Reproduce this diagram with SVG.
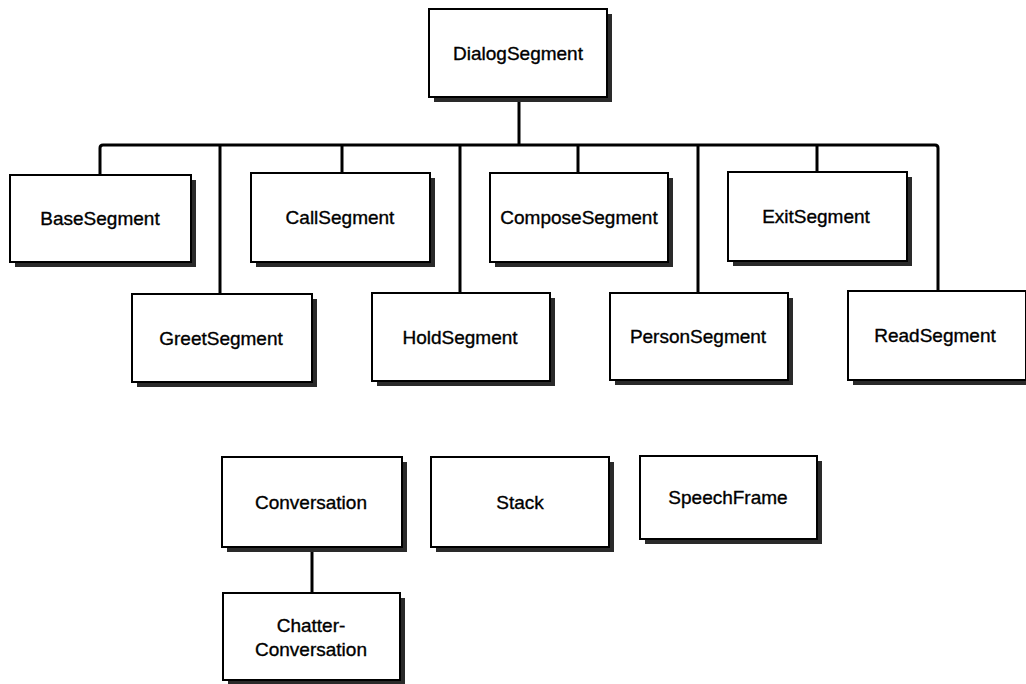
<svg xmlns="http://www.w3.org/2000/svg" width="1026" height="684" viewBox="0 0 1026 684">
<defs>
<style>
.sh{fill:#2a2a2a}
.bx{fill:#fff;stroke:#000;stroke-width:2}
.t{font-family:"Liberation Sans",Arial,sans-serif;font-size:19px;fill:#000;stroke:#000;stroke-width:0.35;text-anchor:middle;dominant-baseline:central}
.c{fill:none;stroke:#000;stroke-width:3;stroke-linejoin:round}
</style>
</defs>
<rect width="1026" height="684" fill="#fff"/>
<g id="connectors">
<path class="c" d="M519 97 V145"/>
<path class="c" d="M100 175 V148 Q100 145 103 145 H935 Q938 145 938 148 V291"/>
<path class="c" d="M220 145 V294"/>
<path class="c" d="M342 145 V173"/>
<path class="c" d="M460 145 V293"/>
<path class="c" d="M578 145 V173"/>
<path class="c" d="M698 145 V293"/>
<path class="c" d="M817 145 V172"/>
<path class="c" d="M312 547 V593"/>
</g>
<g id="DialogSegment"><rect class="sh" x="434" y="14" width="178" height="88"/><rect class="bx" x="429" y="9" width="178" height="88"/><text class="t" x="518" y="53">DialogSegment</text></g>
<g id="BaseSegment"><rect class="sh" x="15" y="180" width="181" height="87"/><rect class="bx" x="10" y="175" width="181" height="87"/><text class="t" x="100" y="218">BaseSegment</text></g>
<g id="CallSegment"><rect class="sh" x="256" y="178" width="179" height="89"/><rect class="bx" x="251" y="173" width="179" height="89"/><text class="t" x="340" y="217">CallSegment</text></g>
<g id="ComposeSegment"><rect class="sh" x="495" y="178" width="178" height="89"/><rect class="bx" x="490" y="173" width="178" height="89"/><text class="t" x="579" y="217">ComposeSegment</text></g>
<g id="ExitSegment"><rect class="sh" x="733" y="177" width="179" height="89"/><rect class="bx" x="728" y="172" width="179" height="89"/><text class="t" x="816" y="216">ExitSegment</text></g>
<g id="GreetSegment"><rect class="sh" x="137" y="299" width="180" height="88"/><rect class="bx" x="132" y="294" width="180" height="88"/><text class="t" x="221" y="338">GreetSegment</text></g>
<g id="HoldSegment"><rect class="sh" x="377" y="298" width="178" height="88"/><rect class="bx" x="372" y="293" width="178" height="88"/><text class="t" x="460" y="337">HoldSegment</text></g>
<g id="PersonSegment"><rect class="sh" x="615" y="298" width="178" height="87"/><rect class="bx" x="610" y="293" width="178" height="87"/><text class="t" x="698" y="336">PersonSegment</text></g>
<g id="ReadSegment"><rect class="sh" x="853" y="296" width="178" height="89"/><rect class="bx" x="848" y="291" width="178" height="89"/><text class="t" x="935" y="335">ReadSegment</text></g>
<g id="Conversation"><rect class="sh" x="227" y="462" width="180" height="90"/><rect class="bx" x="222" y="457" width="180" height="90"/><text class="t" x="311" y="502">Conversation</text></g>
<g id="Stack"><rect class="sh" x="436" y="462" width="178" height="90"/><rect class="bx" x="431" y="457" width="178" height="90"/><text class="t" x="520" y="502">Stack</text></g>
<g id="SpeechFrame"><rect class="sh" x="645" y="461" width="177" height="83"/><rect class="bx" x="640" y="456" width="177" height="83"/><text class="t" x="728" y="497">SpeechFrame</text></g>
<g id="ChatterConversation"><rect class="sh" x="228" y="598" width="177" height="87"/><rect class="bx" x="223" y="593" width="177" height="87"/><text class="t" x="311" y="625">Chatter-</text><text class="t" x="311" y="649">Conversation</text></g>
</svg>
